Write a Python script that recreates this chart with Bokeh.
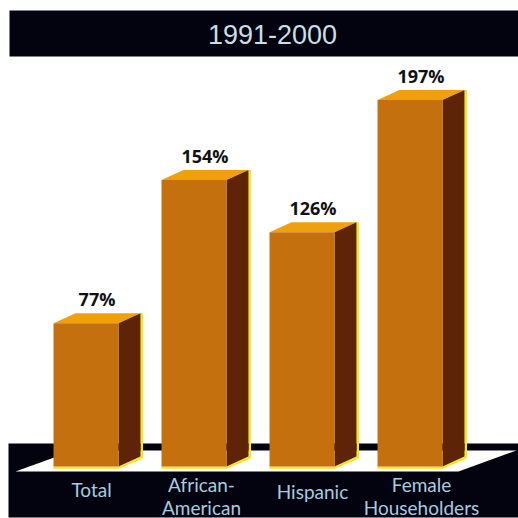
from bokeh.core.properties import value
from bokeh.embed import file_html
from bokeh.models import Range1d
from bokeh.plotting import figure
from bokeh.resources import INLINE

title_text = "1991-2000"
categories = ["Total", "African-\nAmerican", "Hispanic", "Female\nHouseholders"]
percentages = [77, 154, 126, 197]
value_labels = ["77%", "154%", "126%", "197%"]

# Layout of the drawing, in canvas pixels measured from the top left corner.
SIZE = 518
BASELINE = 466
PX_PER_PERCENT = 1.86
BAR_LEFT = [53, 161, 269, 377]
BAR_WIDTH = 65
DEPTH_X = 22
DEPTH_Y = 10
CATEGORY_X = [91, 201, 312, 421]
CATEGORY_Y = [489, 495, 491, 495]

NAVY = "#03030f"
FRONT = "#c4700f"
TOP = "#f0a00c"
SIDE = "#5e2408"
EDGE = "#f4e81a"
CATEGORY_COLOR = "#a5cde0"


def y_of(pixel):
    """Convert a canvas row into the percentage scale used by the y range."""
    return (BASELINE - pixel) / PX_PER_PERCENT


p = figure(
    width=SIZE, height=SIZE, output_backend="svg", toolbar_location=None,
    x_range=Range1d(0, SIZE), y_range=Range1d(y_of(SIZE), y_of(0)),
    x_axis_location=None, y_axis_location=None, min_border=0,
    outline_line_color=None, background_fill_color="white",
    border_fill_color="white",
)
p.xgrid.visible = False
p.ygrid.visible = False

# Header band and its year range
p.quad(left=9, right=SIZE, top=y_of(10), bottom=y_of(56), fill_color=NAVY, line_color=None)
p.text(x=[272], y=[y_of(34)], text=[title_text], text_align="center", text_baseline="middle",
       text_color="#c8dfe6", text_font=value("Liberation Sans"), text_font_size="27px")

# Dark base with the white floor in perspective
p.quad(left=8, right=SIZE, top=y_of(443), bottom=y_of(517), fill_color=NAVY, line_color=None)
p.patch(x=[15, 458, 516, 73], y=[y_of(471), y_of(471), y_of(450), y_of(450)],
        fill_color="white", line_color=None)

# Each bar is three faces: front, top and side, with a thin yellow rim
for left, pct in zip(BAR_LEFT, percentages):
    right = left + BAR_WIDTH
    back = right + DEPTH_X
    depth_pct = DEPTH_Y / PX_PER_PERCENT
    p.patch(x=[back, back + 2.5, back + 2.5, back],
            y=[pct + depth_pct, pct + depth_pct, depth_pct - 1, depth_pct - 1],
            fill_color=EDGE, line_color=None)
    p.patch(x=[left, right, back + 1, back + 1, right, left],
            y=[0, 0, depth_pct, depth_pct - 1.5, -1.2, -1.2],
            fill_color=EDGE, line_color=None)
    p.patch(x=[left + DEPTH_X, back, right, left], y=[pct + depth_pct, pct + depth_pct, pct, pct],
            fill_color=TOP, line_color=None)
    p.patch(x=[right, back, back, right], y=[pct, pct + depth_pct, depth_pct, 0],
            fill_color=SIDE, line_color=None)
    p.quad(left=left, right=right, top=pct, bottom=0, fill_color=FRONT, line_color=None)

# Percentage above each bar
p.text(x=[left + (BAR_WIDTH + DEPTH_X) / 2 for left in BAR_LEFT],
       y=[pct + (DEPTH_Y + 14) / PX_PER_PERCENT for pct in percentages],
       text=value_labels, text_align="center", text_baseline="middle",
       text_color="#111111", text_font=value("Open Sans"), text_font_style="bold",
       text_font_size="18px")

# Category names on the dark base
p.text(x=CATEGORY_X, y=[y_of(v) for v in CATEGORY_Y], text=categories,
       text_align="center", text_baseline="middle", text_color=CATEGORY_COLOR,
       text_font=value("Lato"), text_font_size="19px", text_line_height=1.0)

open("out.html", "w").write(file_html(p, INLINE))
